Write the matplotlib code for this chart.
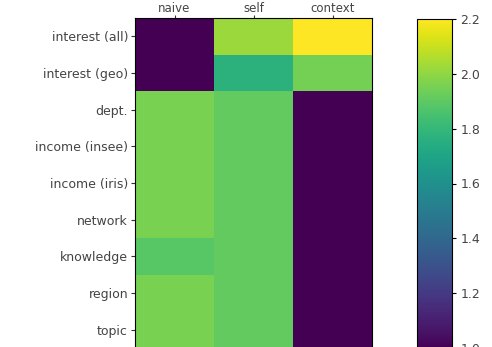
import numpy as np
import matplotlib
matplotlib.use("Agg")
import matplotlib.pyplot as plt

features = ["interest (all)", "interest (geo)", "dept.", "income (insee)",
            "income (iris)", "network", "knowledge", "region", "topic"]
methods = ["naive", "self", "context"]

naive = [1.0, 1.0, 1.96, 1.96, 1.96, 1.96, 1.89, 1.96, 1.96]
self_ = [2.02, 1.77, 1.91, 1.91, 1.91, 1.91, 1.91, 1.91, 1.91]
context = [2.2, 1.95, 1.0, 1.0, 1.0, 1.0, 1.0, 1.0, 1.0]

data = np.array([naive, self_, context]).T

fig = plt.figure(figsize=(4.92, 3.47), dpi=100)
W, H = 492, 347
ax = fig.add_axes([135 / W, 1 - 348 / H, (372 - 135) / W, (348 - 18) / H])
cax = fig.add_axes([417 / W, 1 - 348 / H, (452 - 417) / W, (348 - 19) / H])

im = ax.imshow(data, cmap="viridis", vmin=1.0, vmax=2.2, aspect="auto")
ax.set_xticks(range(len(methods)))
ax.set_xticklabels(methods)
ax.set_yticks(range(len(features)))
ax.set_yticklabels(features)
ax.xaxis.tick_top()
ax.tick_params(labelsize=9, colors="#333333", labelcolor="#444444")
ax.tick_params(axis="x", length=2, pad=0.5, labelsize=8.5)
ax.tick_params(axis="y", length=3, pad=2)

cb = fig.colorbar(im, cax=cax)
cb.set_ticks([1.0, 1.2, 1.4, 1.6, 1.8, 2.0, 2.2])
cb.ax.tick_params(labelsize=9, labelcolor="#444444", length=3, pad=3)

fig.savefig("out.png", dpi=100)
